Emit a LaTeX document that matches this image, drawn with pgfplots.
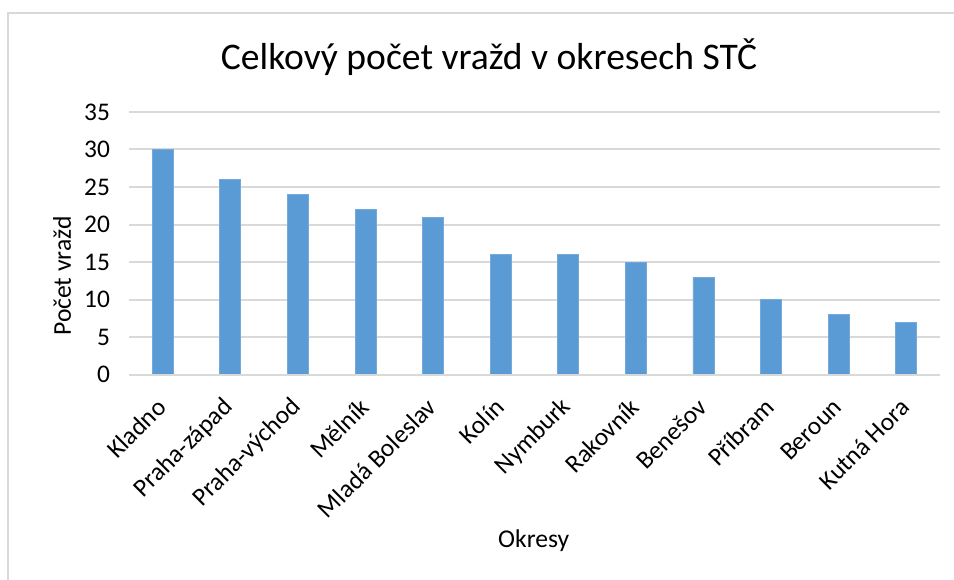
\documentclass[border=0pt]{standalone}
\usepackage{pgfplots}
\pgfplotsset{compat=1.18}
\usepackage{fontspec}
\setmainfont{Carlito}
\definecolor{barblue}{HTML}{5B9BD5}
\definecolor{gridgray}{HTML}{D9D9D9}
\begin{document}
\begin{tikzpicture}
\useasboundingbox (0,0) rectangle (477pt,289.5pt);
\draw[gridgray, line width=1pt] (4pt,-2pt) -- (4pt,283pt) -- (479pt,283pt);
\node[anchor=base, font=\fontsize{18.8pt}{23pt}\selectfont] at (244.5pt,254.5pt) {Celkový počet vražd v okresech STČ};
\begin{axis}[
  at={(64.5pt,102.25pt)}, anchor=south west,
  scale only axis, width=405.5pt, height=131.25pt,
  ybar, bar width=10.5pt,
  xmin=-0.5, xmax=11.5, ymin=0, ymax=35,
  ytick={0,5,...,35},
  xtick={0,...,11},
  xticklabels={Kladno,Praha-západ,Praha-východ,Mělník,Mladá Boleslav,Kolín,Nymburk,Rakovník,Benešov,Příbram,Beroun,Kutná Hora},
  major tick length=0pt,
  axis line style={draw=none},
  ymajorgrids, grid style={gridgray, line width=1pt},
  /pgf/number format/assume math mode=true,
  tick label style={font=\fontsize{12.7pt}{15pt}\selectfont},
  yticklabel style={anchor=east, xshift=-6pt},
  xticklabel style={rotate=45, anchor=east, inner sep=0pt, xshift=-10.4pt, yshift=-9.7pt},
  xlabel={Okresy}, ylabel={Počet vražd},
  label style={font=\fontsize{12.8pt}{15pt}\selectfont},
  xlabel style={at={(axis description cs:0.499,-0.634)}, anchor=center},
  ylabel style={at={(axis description cs:-0.0826,0.375)}, anchor=center},
  clip=false,
]
\addplot[fill=barblue, draw=barblue!85!white, bar shift=0pt] coordinates {(0,30) (1,26) (2,24) (3,22) (4,21) (5,16) (6,16) (7,15) (8,13) (9,10) (10,8) (11,7)};
\draw[gridgray, line width=1pt] (axis cs:-0.5,0) -- (axis cs:11.5,0);
\end{axis}
\end{tikzpicture}
\end{document}
